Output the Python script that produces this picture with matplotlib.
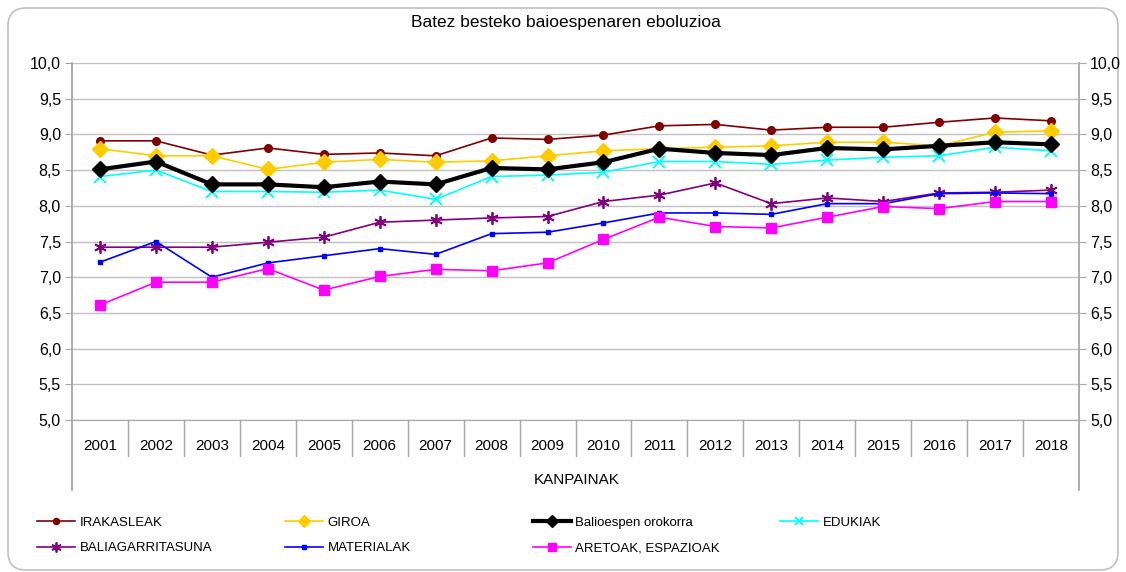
import matplotlib.pyplot as plt
import matplotlib.transforms as mtransforms
from matplotlib.patches import FancyBboxPatch
import numpy as np

plt.rcParams['font.family'] = ['Liberation Sans', 'DejaVu Sans']

years = [str(y) for y in range(2001, 2019)]

irakasleak = [8.91, 8.91, 8.71, 8.81, 8.72, 8.74, 8.70, 8.95, 8.93, 8.99,
              9.12, 9.14, 9.06, 9.10, 9.10, 9.17, 9.23, 9.19]
giroa = [8.80, 8.70, 8.70, 8.51, 8.61, 8.65, 8.61, 8.63, 8.70, 8.77,
         8.80, 8.82, 8.84, 8.89, 8.89, 8.84, 9.03, 9.05]
orokorra = [8.51, 8.62, 8.30, 8.30, 8.26, 8.34, 8.30, 8.53, 8.51, 8.61,
            8.80, 8.74, 8.71, 8.81, 8.79, 8.84, 8.89, 8.86]
edukiak = [8.41, 8.50, 8.20, 8.20, 8.19, 8.22, 8.09, 8.41, 8.43, 8.47,
           8.62, 8.62, 8.58, 8.64, 8.68, 8.70, 8.82, 8.77]
baliagarritasuna = [7.42, 7.42, 7.42, 7.49, 7.56, 7.77, 7.80, 7.83, 7.85, 8.06,
                    8.15, 8.32, 8.03, 8.11, 8.06, 8.18, 8.19, 8.22]
materialak = [7.21, 7.50, 7.00, 7.20, 7.30, 7.40, 7.32, 7.61, 7.63, 7.76,
              7.90, 7.90, 7.88, 8.03, 8.03, 8.17, 8.18, 8.17]
aretoak = [6.61, 6.93, 6.93, 7.12, 6.82, 7.01, 7.11, 7.09, 7.20, 7.53,
           7.84, 7.71, 7.69, 7.84, 7.99, 7.96, 8.06, 8.06]

W, H = 1126, 572
fig = plt.figure(figsize=(W / 100, H / 100), dpi=100)

# rounded chart border
border = FancyBboxPatch((8, 2), 1110, 562, boxstyle="round,pad=0,rounding_size=18",
                        transform=mtransforms.IdentityTransform(),
                        facecolor='none', edgecolor='#c0c0c0', linewidth=1.2, zorder=-1)
fig.patches.append(border)

left, right, top, bottom = 72, 1079, 63, 420
ax = fig.add_axes([left / W, 1 - bottom / H, (right - left) / W, (bottom - top) / H])
ax.set_facecolor('none')

x = np.arange(1, len(years) + 1)
grid_col = '#c0c0c0'
axis_col = '#a6a6a6'
lw = 1.2

ax.plot(x, irakasleak, color='#800000', marker='o', markersize=5.5, linewidth=lw, label='IRAKASLEAK')
ax.plot(x, giroa, color='#ffcc00', marker='D', markersize=8, linewidth=lw, label='GIROA')
ax.plot(x, edukiak, color='#00ffff', marker='x', markersize=8, markeredgewidth=1.4, linewidth=lw, label='EDUKIAK')
ax.plot(x, baliagarritasuna, color='#800080', marker=(6, 2, 0), markersize=9, markeredgewidth=1.3,
        linewidth=lw, label='BALIAGARRITASUNA')
ax.plot(x, materialak, color='#0000ff', marker='s', markersize=3, linewidth=lw, label='MATERIALAK')
ax.plot(x, aretoak, color='#ff00ff', marker='s', markersize=6.5, linewidth=lw, label='ARETOAK, ESPAZIOAK')
ax.plot(x, orokorra, color='black', marker='D', markersize=8, linewidth=3, label='Balioespen orokorra',
        zorder=5)

ax.set_xlim(0.5, len(years) + 0.5)
ax.set_ylim(5, 10)
yt = np.arange(5, 10.01, 0.5)
ax.set_yticks(yt)
ax.set_yticklabels([f'{v:.1f}'.replace('.', ',') for v in yt], fontsize=11.5)
ax.yaxis.grid(True, color=grid_col, linewidth=1)
ax.set_axisbelow(True)
ax.tick_params(axis='y', direction='out', length=5, color=axis_col, pad=3, labelright=True, right=True)
ax.set_xticks(x)
ax.set_xticklabels(years, fontsize=11)
ax.tick_params(axis='x', length=0, pad=14)

for s in ['top', 'left', 'right']:
    ax.spines[s].set_visible(False)
ax.spines['bottom'].set_color(axis_col)

# category separators and extended side axes
trans = mtransforms.blended_transform_factory(ax.transData, ax.transAxes)
for b in np.arange(1.5, len(years), 1.0):
    ax.plot([b, b], [0, -36 / (bottom - top)], color=axis_col, linewidth=1, transform=trans, clip_on=False)
for b in [0.5, len(years) + 0.5]:
    ax.plot([b, b], [1, -70 / (bottom - top)], color=axis_col, linewidth=1.3, transform=trans, clip_on=False)

fig.text(566 / W, 1 - 23 / H, 'Batez besteko baioespenaren eboluzioa', ha='center', va='center', fontsize=12.5)
fig.text(577 / W, 1 - 480 / H, 'KANPAINAK', ha='center', va='center', fontsize=11)

handles = {h.get_label(): h for h in ax.get_lines() if not h.get_label().startswith('_')}
columns = [['IRAKASLEAK', 'BALIAGARRITASUNA'], ['GIROA', 'MATERIALAK'],
           ['Balioespen orokorra', 'ARETOAK, ESPAZIOAK'], ['EDUKIAK']]
col_x = [30, 278, 526, 773]
for cx, labels in zip(col_x, columns):
    fig.legend([handles[l] for l in labels], labels, loc='upper left',
               bbox_to_anchor=(cx / W, 1 - 510 / H), frameon=False, fontsize=9.5,
               handlelength=2.9, handletextpad=0.35, labelspacing=1.0, borderpad=0, markerscale=0.8)

fig.savefig('out.png', dpi=100)
